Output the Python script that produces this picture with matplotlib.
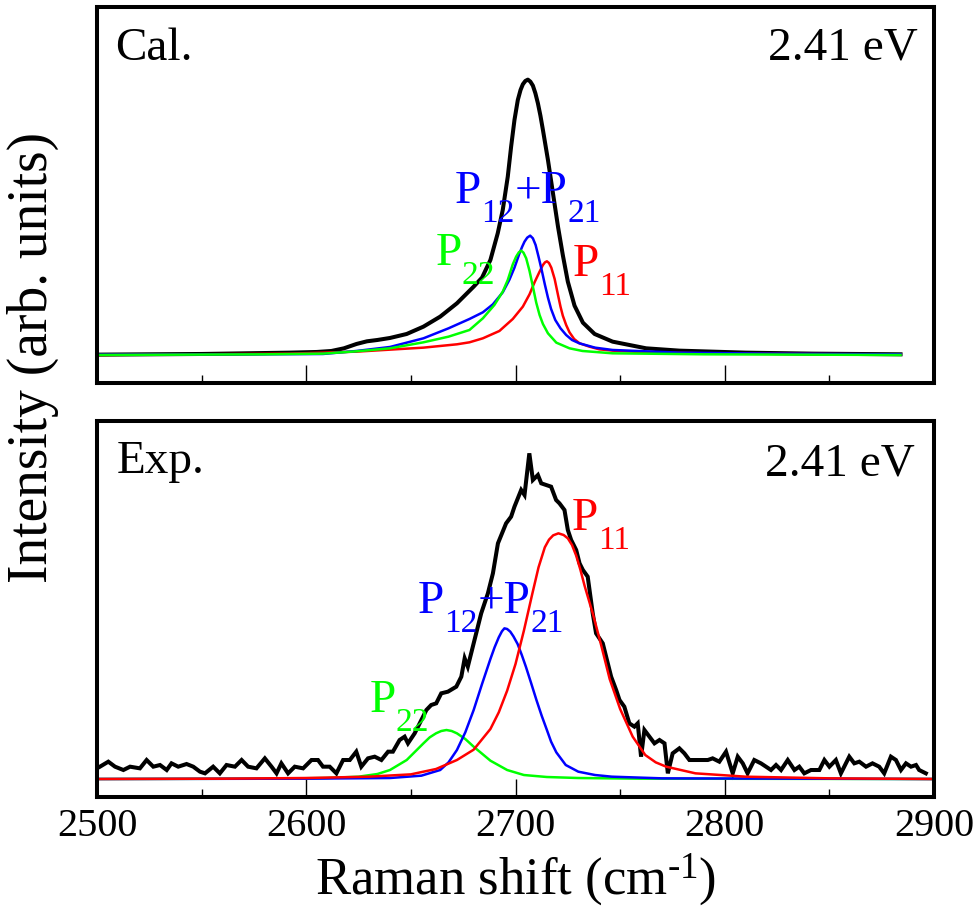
import matplotlib
matplotlib.use("Agg")
import matplotlib.pyplot as plt
from matplotlib.ticker import MultipleLocator
from matplotlib.transforms import offset_copy

plt.rcParams.update({
    "font.family": ["Liberation Serif", "DejaVu Serif"],
    "mathtext.fontset": "custom",
    "mathtext.rm": "Liberation Serif",
    "mathtext.it": "Liberation Serif:italic",
    "mathtext.bf": "Liberation Serif:bold",
})

# ---------------- calculated spectrum (2.41 eV) ----------------
cal_total_x = [2500, 2550, 2592, 2605, 2612, 2618, 2624, 2629, 2634, 2640,
               2648, 2656, 2664, 2672, 2680, 2684, 2688, 2691.5, 2693.9, 2696.3,
               2697.9, 2699.5, 2701.1, 2702.4, 2703.5, 2704.7, 2705.9, 2707.1, 2708.3, 2709.5,
               2710.7, 2711.9, 2713.1, 2715.5, 2717.9, 2720.3, 2722.6, 2725.0, 2728.2, 2732.2,
               2737.8, 2746.4, 2762.4, 2778.3, 2810, 2842, 2884]
cal_total_I = [1, 3, 7, 9, 12, 20, 33, 41, 45, 51,
               63, 85, 115, 155, 205, 232, 285, 365, 435, 535,
               625, 705, 765, 795, 812, 822, 826, 820, 808, 785,
               755, 718, 675, 585, 485, 385, 300, 220, 148, 97,
               63, 40, 20, 13, 7, 4, 2]

cal_p11_x = [2500, 2592, 2624, 2656, 2672, 2678, 2684.4, 2692.3, 2698.7, 2703.5,
             2706.7, 2709.1, 2711.5, 2713.1, 2714.1, 2715.0, 2716.0, 2717.1, 2718.7, 2720.3,
             2721.5, 2722.6, 2724.2, 2725.8, 2728.0, 2730.6, 2735.3, 2740.0, 2746.4, 2762.4,
             2800, 2884]
cal_p11_I = [0, 4, 10, 22, 32, 38, 50, 72, 108, 145,
             182, 218, 250, 270, 278, 281, 276, 262, 228, 180,
             145, 118, 90, 68, 48, 35, 25, 17, 13, 8,
             4, 2]

cal_p12_x = [2500, 2580, 2608, 2624, 2640, 2656, 2668, 2678, 2684.4, 2689.2,
             2693.9, 2697.1, 2699.5, 2701.9, 2703.2, 2704.3, 2705.6, 2707.0, 2708.3, 2709.6,
             2711.0, 2712.5, 2714.0, 2715.5, 2717.0, 2719.0, 2721.5, 2724.2, 2727.0, 2730.5,
             2738.0, 2746.4, 2778.3, 2820, 2884]
cal_p12_I = [1, 2, 3, 12, 24, 50, 80, 108, 128, 152,
             188, 226, 262, 305, 325, 340, 352, 358, 350, 330,
             295, 255, 212, 172, 138, 105, 80, 60, 45, 35,
             22, 15, 7, 4, 2]

cal_p22_x = [2500, 2580, 2608, 2624, 2640, 2656, 2668, 2678, 2684.4, 2689.9,
             2693.9, 2696.3, 2698.7, 2700.3, 2701.6, 2702.7, 2703.8, 2705.1, 2706.7, 2708.3,
             2709.9, 2711.5, 2713.1, 2715.5, 2719.5, 2725.8, 2732.0, 2746.4, 2790, 2884]
cal_p22_I = [0, 2, 4, 11, 20, 38, 55, 75, 110, 150,
             190, 225, 272, 295, 308, 313, 307, 290, 252, 205,
             157, 120, 93, 65, 37, 20, 12, 5, 2, 0]

# ---------------- measured spectrum (2.41 eV) ----------------
exp_x = [2501.4, 2505.4, 2508.6, 2512.6, 2515.8, 2520.5, 2523.7, 2526.9, 2530.1, 2533.3,
         2535.6, 2538.8, 2542.8, 2546.0, 2549.2, 2551.6, 2555.5, 2558.7, 2561.9, 2565.9,
         2569.1, 2572.2, 2576.2, 2580.2, 2583.4, 2585.8, 2588.1, 2591.3, 2594.5, 2598.5,
         2602.5, 2605.6, 2608.0, 2611.2, 2614.4, 2617.6, 2620.8, 2623.9, 2626.3, 2629.5,
         2632.7, 2635.9, 2639.1, 2641.4, 2644.6, 2647.0, 2648.6, 2651.8, 2655.0, 2657.4,
         2659.7, 2662.1, 2664.5, 2667.7, 2671.7, 2674.1, 2675.7, 2677.2, 2679.6, 2681.2,
         2683.6, 2686.8, 2689.2, 2691.6, 2695.5, 2697.9, 2699.5, 2702.7, 2704.3, 2706.6,
         2708.3, 2710.7, 2712.3, 2714.6, 2717.0, 2719.4, 2721.0, 2723.4, 2725.0, 2726.6,
         2729.0, 2730.6, 2732.2, 2734.5, 2736.9, 2738.5, 2741.7, 2744.1, 2745.7, 2748.1,
         2749.7, 2752.0, 2754.4, 2756.8, 2758.4, 2760.0, 2761.6, 2764.0, 2766.4, 2768.8,
         2771.2, 2772.8, 2775.1, 2778.3, 2780.7, 2783.1, 2786.3, 2789.5, 2791.9, 2794.2,
         2797.4, 2800.6, 2803.8, 2806.2, 2808.6, 2810.9, 2814.1, 2817.3, 2819.7, 2822.1,
         2824.5, 2826.9, 2830.1, 2833.3, 2835.6, 2838.0, 2841.2, 2845.2, 2847.6, 2850.0,
         2853.1, 2855.5, 2857.1, 2859.5, 2861.9, 2864.3, 2867.5, 2870.6, 2873.8, 2876.2,
         2879.4, 2881.8, 2884.2, 2886.6, 2889.0, 2891.4, 2892.9, 2896.1]
exp_I = [37, 52, 37, 27, 37, 32, 57, 37, 42, 27,
         47, 37, 45, 37, 22, 17, 37, 17, 42, 37,
         57, 37, 32, 62, 37, 17, 47, 17, 37, 32,
         57, 57, 37, 37, 17, 57, 57, 82, 37, 62,
         67, 57, 82, 82, 117, 127, 107, 137, 177, 207,
         222, 227, 257, 262, 277, 307, 362, 337, 397, 437,
         497, 557, 617, 707, 767, 787, 817, 867, 852, 977,
         897, 912, 887, 882, 877, 837, 827, 807, 747, 717,
         687, 647, 627, 607, 497, 437, 407, 347, 307, 267,
         237, 217, 167, 157, 167, 67, 147, 127, 107, 117,
         107, 17, 77, 92, 77, 57, 57, 57, 57, 62,
         52, 82, 17, 67, 47, 17, 57, 47, 37, 27,
         42, 27, 57, 27, 37, 17, 27, 27, 57, 37,
         57, 17, 37, 67, 47, 52, 37, 47, 37, 17,
         67, 57, 27, 47, 37, 42, 27, 17]

exp_p11_x = [2500, 2560, 2600, 2630, 2650, 2662, 2672, 2680, 2688, 2692,
             2696, 2700, 2704, 2708, 2711, 2714, 2716, 2718, 2720.5, 2723,
             2725, 2727, 2729, 2731, 2733, 2737, 2741, 2745, 2750, 2756,
             2762, 2767, 2772, 2786, 2810, 2850, 2900]
exp_p11_I = [0, 1, 3, 7, 14, 30, 57, 88, 150, 200,
             265, 345, 445, 555, 635, 695, 718, 731, 737, 732,
             722, 702, 670, 628, 580, 495, 400, 300, 210, 127,
             72, 50, 37, 17, 7, 2, 0]

exp_p12_x = [2500, 2600, 2640, 2655, 2664, 2668, 2672, 2676, 2680, 2684,
             2688, 2690, 2692, 2693.5, 2694.7, 2696, 2697.5, 2699, 2701, 2703,
             2705, 2707.5, 2710, 2712.5, 2715, 2717, 2719.5, 2724, 2730, 2738,
             2746, 2770, 2900]
exp_p12_I = [0, 1, 3, 10, 27, 50, 87, 140, 207, 285,
             360, 395, 425, 443, 452, 450, 442, 428, 405, 372,
             336, 287, 237, 190, 147, 112, 80, 42, 22, 12,
             7, 2, 0]

exp_p22_x = [2500, 2580, 2610, 2625, 2634, 2640, 2648, 2652, 2656, 2659,
             2662, 2664.5, 2667, 2669.5, 2672, 2676, 2680, 2688, 2696, 2704,
             2715, 2730, 2760, 2900]
exp_p22_I = [0, 1, 3, 7, 15, 27, 57, 82, 107, 125,
             137, 144, 147, 144, 137, 120, 97, 55, 27, 12,
             6, 3, 1, 0]

x_ticks = [2500, 2600, 2700, 2800, 2900]
x_tick_labels = ["2500", "2600", "2700", "2800", "2900"]

BLACK, RED, BLUE, GREEN = "#000000", "#ff0000", "#0000ff", "#00ff00"

fig = plt.figure(figsize=(9.77, 9.16), dpi=100)
ax_cal = fig.add_axes([0.0993, 0.5819, 0.8567, 0.4105])
ax_exp = fig.add_axes([0.0993, 0.1299, 0.8567, 0.4105])

for ax in (ax_cal, ax_exp):
    ax.set_xlim(2500, 2900)
    ax.set_xticks(x_ticks)
    ax.xaxis.set_minor_locator(MultipleLocator(50))
    ax.tick_params(axis="x", which="major", direction="in", length=13, width=1.0,
                   top=False, labelsize=29, pad=8)
    ax.tick_params(axis="x", which="minor", direction="in", length=5.5, width=1.0, top=False)
    ax.set_yticks([])
    for sp in ax.spines.values():
        sp.set_linewidth(2.9)

ax_cal.set_ylim(-84, 1044)
ax_exp.set_ylim(-54, 1074)
ax_cal.tick_params(axis="x", labelbottom=False)
ax_exp.set_xticklabels(x_tick_labels)

# calculated panel
ax_cal.plot(cal_total_x, cal_total_I, color=BLACK, lw=2.9, solid_joinstyle="round")
ax_cal.plot(cal_p11_x, cal_p11_I, color=RED, lw=1.8, solid_joinstyle="round")
ax_cal.plot(cal_p12_x, cal_p12_I, color=BLUE, lw=1.8, solid_joinstyle="round")
ax_cal.plot(cal_p22_x, cal_p22_I, color=GREEN, lw=1.8, solid_joinstyle="round")

# measured panel
ax_exp.plot(exp_x, exp_I, color=BLACK, lw=2.9, solid_joinstyle="miter")
ax_exp.plot(exp_p22_x, exp_p22_I, color=GREEN, lw=1.8, solid_joinstyle="round")
ax_exp.plot(exp_p12_x, exp_p12_I, color=BLUE, lw=1.8, solid_joinstyle="round")
ax_exp.plot(exp_p11_x, exp_p11_I, color=RED, lw=1.8, solid_joinstyle="round")

panel_size = 34
ax_cal.text(0.0215, 0.859, "Cal.", transform=ax_cal.transAxes, fontsize=panel_size,
            ha="left", va="baseline")
ax_cal.text(0.981, 0.859, "2.41 eV", transform=ax_cal.transAxes, fontsize=panel_size,
            ha="right", va="baseline")
ax_exp.text(0.0239, 0.862, "Exp.", transform=ax_exp.transAxes, fontsize=panel_size,
            ha="left", va="baseline")
ax_exp.text(0.977, 0.856, "2.41 eV", transform=ax_exp.transAxes, fontsize=panel_size,
            ha="right", va="baseline")


def peak_label(ax, x, y, pieces, color, size=34, sub_size=24, drop=13.5):
    """Write a label made of normal and subscript pieces, one after another."""
    renderer = fig.canvas.get_renderer()
    advance = 0.0
    for txt, is_sub in pieces:
        tr = offset_copy(ax.transData, fig=fig, x=advance,
                         y=-drop if is_sub else 0.0, units="points")
        t = ax.text(x, y, txt, color=color, fontsize=sub_size if is_sub else size,
                    ha="left", va="baseline", transform=tr)
        advance += t.get_window_extent(renderer).width * 72.0 / fig.dpi


p12 = [("P", False), ("12", True), ("+P", False), ("21", True)]
p22 = [("P", False), ("22", True)]
p11 = [("P", False), ("11", True)]

peak_label(ax_cal, 2670.9, 456, p12, BLUE)
peak_label(ax_cal, 2661.8, 270, p22, GREEN)
peak_label(ax_cal, 2727.2, 237, p11, RED)

peak_label(ax_exp, 2653.2, 498, p12, BLUE)
peak_label(ax_exp, 2630.3, 201, p22, GREEN)
peak_label(ax_exp, 2726.7, 747, p11, RED)

ax_exp.set_xlabel(r"Raman shift (cm$^{\text{-1}}$)", fontsize=38, labelpad=4)
fig.text(0.034, 0.61, "Intensity (arb. units)", rotation=90, fontsize=40,
         ha="center", va="center")

fig.savefig("out.png", dpi=100)
